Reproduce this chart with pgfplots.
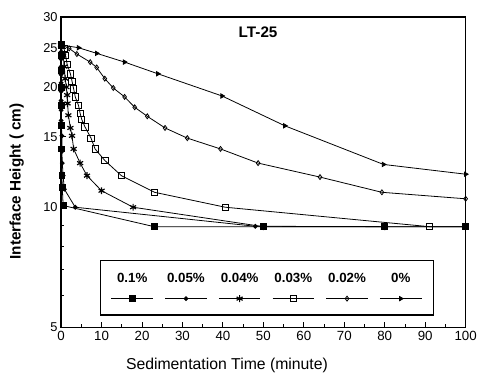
\documentclass[border=0pt]{standalone}
\usepackage{pgfplots}
\pgfplotsset{compat=1.18}
\usepackage{fontspec}
\setmainfont{Liberation Sans}
\begin{document}
\pgfplotsset{labelabove/.style={legend image code/.code={
  \draw[mark repeat=2,mark phase=2,##1] plot coordinates {(0bp,0bp) (21bp,0bp) (42bp,0bp)};
  \node[anchor=base,font=\fontsize{13.5}{15}\selectfont\bfseries,inner sep=0pt] at (21bp,16bp) {#1};}}}
\begin{tikzpicture}
\begin{axis}[
  width=409bp, height=314bp, scale only axis,
  xmin=0, xmax=100, ymin=5, ymax=30, ymode=log,
  xtick={0,10,...,100}, minor x tick num=1,
  ytick={5,10,15,20,25,30}, yticklabels={5,10,15,20,25,30},
  minor ytick={6,7,8,9},
  tick align=inside, xtick pos=bottom, ytick pos=left,
  axis line style={line width=1.6bp},
  major tick style={line width=1bp, black}, minor tick style={line width=0.8bp, black},
  major tick length=5bp, minor tick length=3bp,
  xticklabel style={font=\fontsize{13.5}{16}\selectfont, inner xsep=0pt},
  yticklabel style={font=\fontsize{13}{15}\selectfont},
  /pgf/number format/assume math mode=true,
  xlabel={Sedimentation Time (minute)},
  ylabel={Interface Height ( cm)},
  xlabel style={font=\fontsize{16}{18}\selectfont, at={(axis description cs:0.41,-0.124)}, anchor=center, inner sep=0pt},
  ylabel style={font=\fontsize{15.5}{18}\selectfont\bfseries, at={(axis description cs:-0.110,0.47)}, anchor=center, inner sep=0pt},
  clip=false,
  legend columns=6,
  legend style={at={(rel axis cs:0.095,0.038)}, anchor=south west, draw=black, line width=1.3bp,
    inner xsep=11bp, inner ysep=13bp, nodes={inner sep=0pt},
    /tikz/every even column/.append style={column sep=10.5bp},
    /tikz/column 12/.style={column sep=0pt}},
]
% 0.1%
\addplot[black, line width=0.8bp, mark=square*, mark size=3bp, labelabove={0.1\%}] coordinates {
(0,25.5) (0,24) (0,22) (0,20) (0,18) (0,16) (0,14) (0.2,12) (0.3,11.2) (0.5,10.1) (23,8.94) (50,8.94) (80,8.94) (100,8.94)};
\addlegendentry{}
% 0.05%
\addplot[black, line width=0.8bp, mark=*, mark size=2bp, labelabove={0.05\%}] coordinates {
(0,25.5) (0,24.5) (0,23.5) (0,22.5) (0,21.5) (0,20.5) (0,19.5) (0,18.5) (0,17.5) (0,16.5) (0.2,15.1) (0.2,13.8) (0.3,12.9) (0.5,12) (0.8,11.1) (3.5,10) (48,8.96) (80,8.94) (100,8.94)};
\addlegendentry{}
% 0.04%
\addplot[black, line width=0.8bp, mark=asterisk, mark size=3.5bp, mark options={line width=1.2bp}, labelabove={0.04\%}] coordinates {
(0,25.5) (0.5,24) (0.8,22.5) (1,21) (1.3,20) (1.5,19.1) (1.6,18.2) (1.8,17) (2.3,15.8) (2.7,15.1) (3.1,14) (4.7,12.9) (6.4,12) (10,11) (17.8,10) (50,8.94) (80,8.94)};
\addlegendentry{}
% 0.03%
\addplot[black, line width=0.8bp, mark=square, mark size=3.2bp, mark options={fill=white}, labelabove={0.03\%}] coordinates {
(0,25.5) (0.7,25) (1.1,24) (1.5,22.8) (2.3,21.6) (2.7,20.7) (3.1,19.8) (3.5,18.9) (4.3,18) (4.7,17.2) (5.1,16.6) (5.9,15.9) (7.4,14.9) (8.4,14) (10.8,13.1) (14.9,12) (23.1,10.9) (40.6,10) (91,8.94) (100,8.94)};
\addlegendentry{}
% 0.02%
\addplot[black, line width=0.8bp, mark=diamond, mark size=2.5bp, mark options={fill=white}, labelabove={0.02\%}] coordinates {
(0,25.5) (2,25) (3.9,24.2) (7.2,23.1) (8.8,22.4) (10.8,21) (12.9,19.9) (15.7,18.9) (18.2,17.8) (21.3,16.9) (25.7,15.8) (31.2,14.9) (39.4,14.0) (48.7,12.9) (64,11.9) (79.3,10.9) (100,10.5)};
\addlegendentry{}
% 0%
\addplot[black, line width=0.8bp, mark=triangle*, mark size=2.5bp, mark options={rotate=-90}, labelabove={0\%}] coordinates {
(0,25.5) (4.3,25.1) (8.8,24.3) (15.7,23.1) (23.9,21.6) (39.8,19.0) (55.3,16.0) (79.7,12.8) (100,12.1)};
\addlegendentry{}
\node[font=\fontsize{15.5}{18}\selectfont\bfseries] at (rel axis cs:0.487,0.949) {LT-25};
\coordinate (O) at (rel axis cs:0,0);
\end{axis}
\pgfresetboundingbox
\useasboundingbox (O) ++(-59bp,-52bp) rectangle ++(480.5bp,383bp);
\end{tikzpicture}
\end{document}
